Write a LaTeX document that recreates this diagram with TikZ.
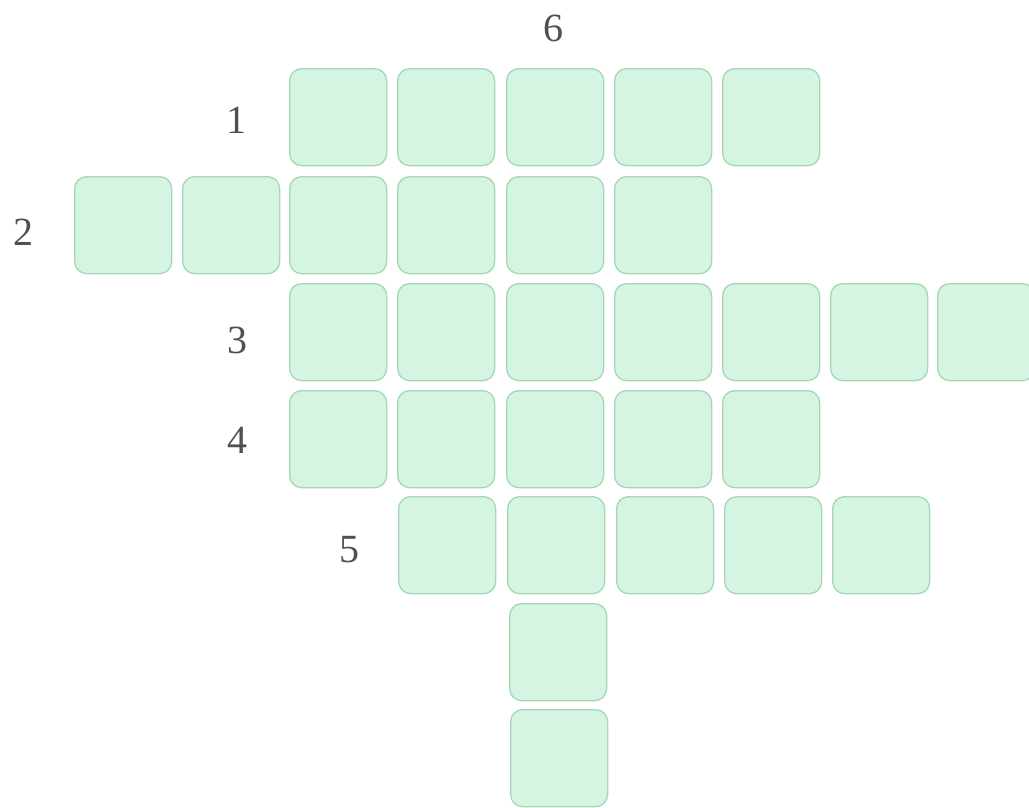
\documentclass[tikz,border=0pt]{standalone}
\usepackage{fontspec}
\setmainfont{Liberation Serif}
\definecolor{cellfill}{HTML}{D5F4E1}
\definecolor{celldraw}{HTML}{A3D8B5}
\definecolor{numcol}{HTML}{505050}
\tikzset{
  cell/.style={draw=celldraw, line width=1.3pt, fill=cellfill, rounded corners=12pt,
    minimum width=97pt, minimum height=97pt, inner sep=0pt, anchor=north west},
  num/.style={text=numcol, font=\fontsize{40}{40}\selectfont, inner sep=0pt}
}
\begin{document}
\begin{tikzpicture}[x=1pt,y=-1pt]
\useasboundingbox (0,0) rectangle (1029,807);
% row 1: cols 2-6
\foreach \c/\x in {2/289,3/397,4/506,5/614,6/722}
  \node[cell] (r1c\c) at (\x,68) {};
% row 2: cols 0-5
\foreach \c/\x in {0/74,1/182,2/289,3/397,4/506,5/614}
  \node[cell] (r2c\c) at (\x,176) {};
% row 3: cols 2-8
\foreach \c/\x in {2/289,3/397,4/506,5/614,6/722,7/830,8/937}
  \node[cell] (r3c\c) at (\x,283) {};
% row 4: cols 2-6
\foreach \c/\x in {2/289,3/397,4/506,5/614,6/722}
  \node[cell] (r4c\c) at (\x,390) {};
% row 5: cols 3-7
\foreach \c/\x in {3/398,4/507,5/616,6/724,7/832}
  \node[cell] (r5c\c) at (\x,496) {};
% rows 6-7: col 4
\node[cell] (r6c4) at (509,603) {};
\node[cell] (r7c4) at (510,709) {};
% numbers
\node[num] (n1) at (236,120) {1};
\node[num] (n2) at (23,232) {2};
\node[num] (n3) at (237,340) {3};
\node[num] (n4) at (237,440) {4};
\node[num] (n5) at (349,550) {5};
\node[num] (n6) at (553,28) {6};
\end{tikzpicture}
\end{document}
